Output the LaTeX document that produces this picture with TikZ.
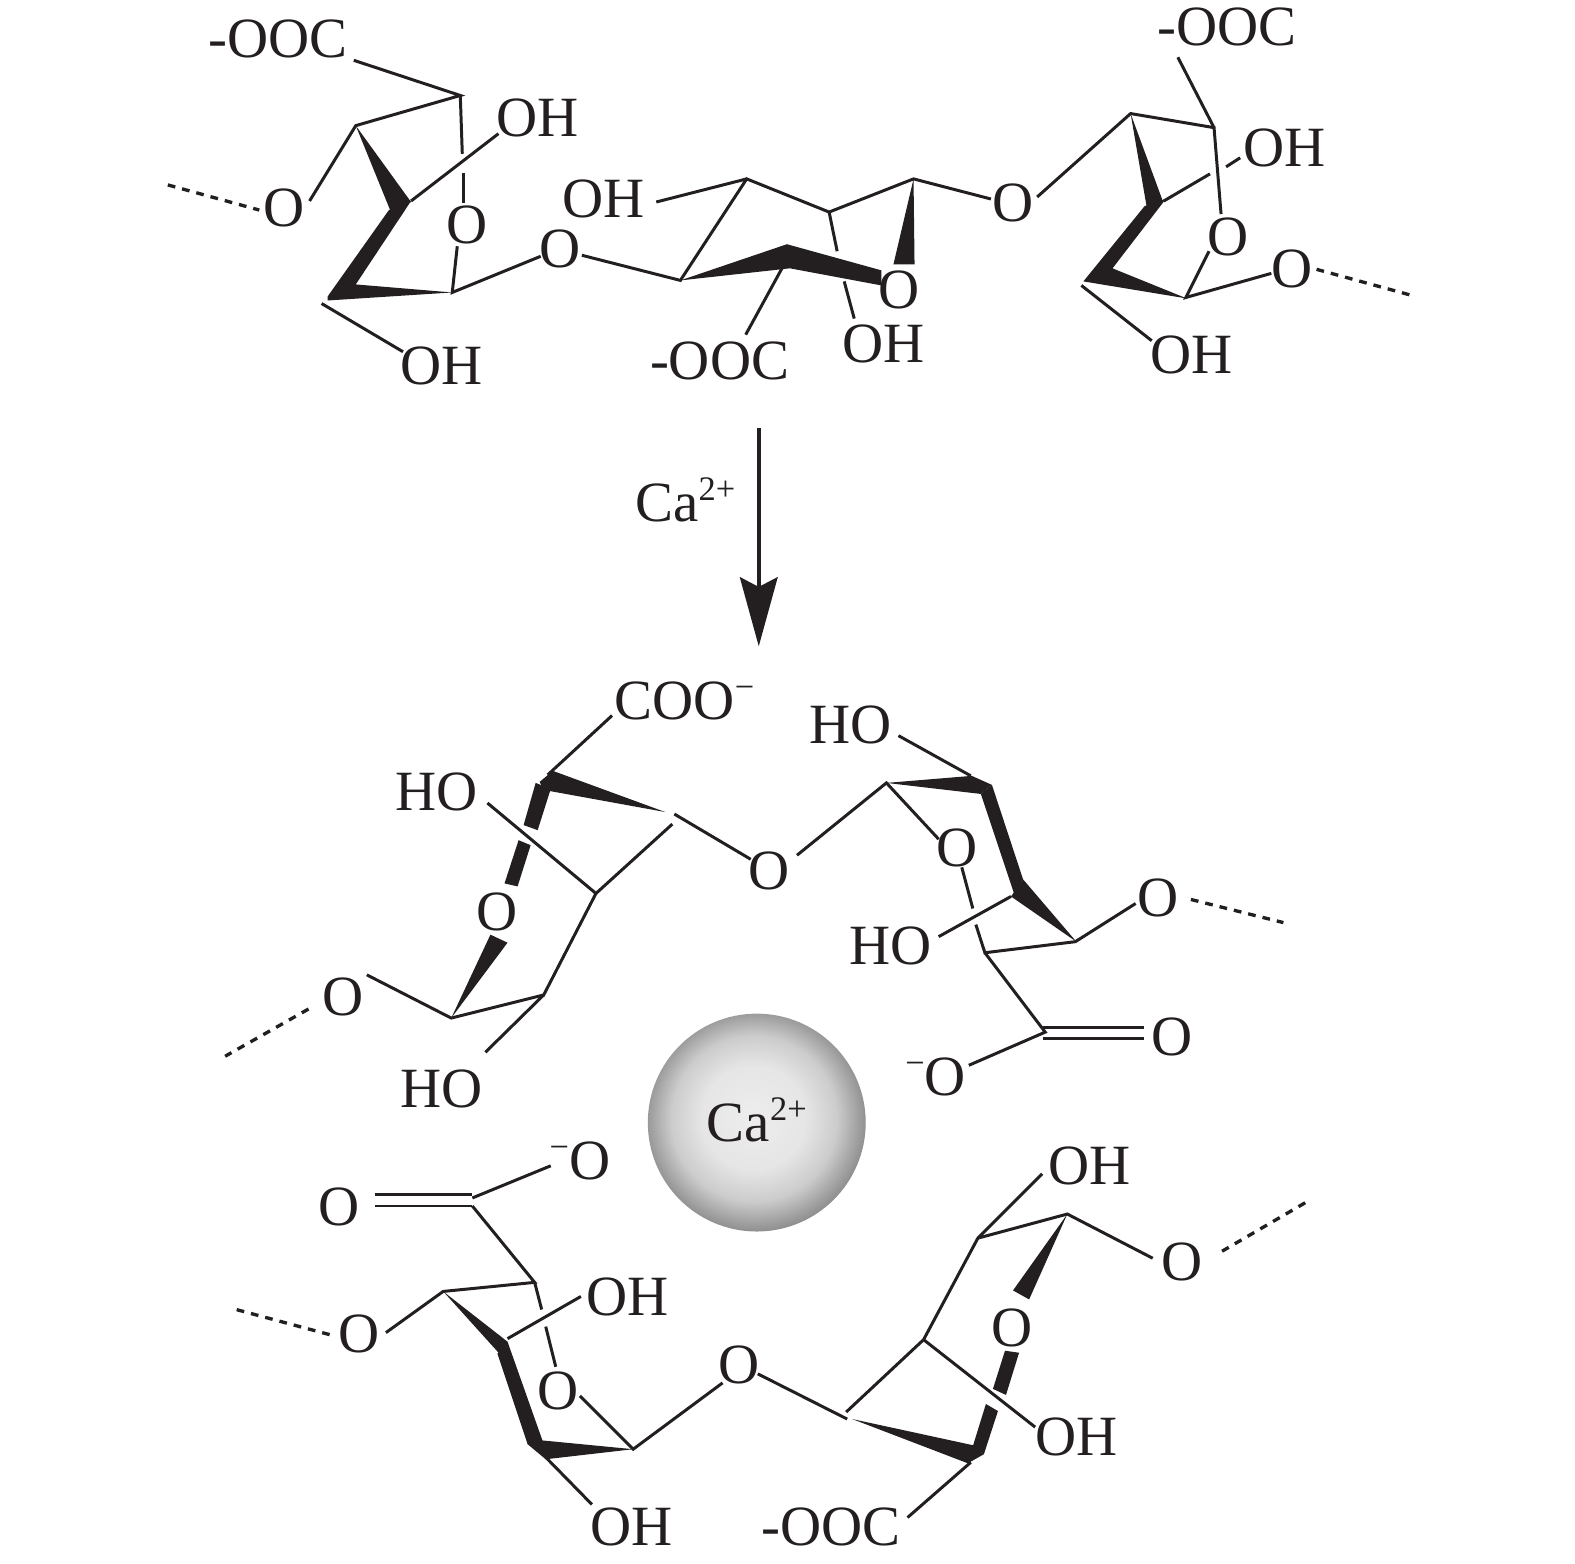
\documentclass[tikz,border=0pt]{standalone}
\usepackage{fontspec}
\setmainfont{Liberation Serif}
\definecolor{ink}{HTML}{231F20}
\pgfdeclareradialshading{caball}{\pgfpoint{-1bp}{1.5bp}}{rgb(0bp)=(.93,.93,.93); rgb(12bp)=(.90,.90,.90); rgb(19bp)=(.80,.80,.80); rgb(24bp)=(.62,.62,.62); rgb(28bp)=(.48,.48,.48); rgb(34bp)=(.42,.42,.42); rgb(50bp)=(.42,.42,.42)}
\newcommand{\upchg}[1]{\raisebox{.37em}{\fontsize{9.8}{9.8}\selectfont #1}}
\tikzset{
  lab/.style={inner sep=0pt,text=ink,font=\fontsize{16.2}{16.2}\selectfont,text height=10.7pt,text depth=0pt},
  bond/.style={draw=ink,line width=.85pt},
  dotbond/.style={draw=ink,line width=.95pt,dash pattern=on 2.2pt off 2pt},
  solid wedge/.style={fill=ink,draw=none}
}
\begin{document}
\begin{tikzpicture}[x=.01005cm,y=-.01005cm]
\useasboundingbox (0,0) rectangle (1567.2,1556.2);
% ---------- labels, top chain
\node[lab] (ta) at (277,39) {-OOC};
\node[lab] (tb) at (535,117) {OH};
\node[lab] (tc) at (283,207) {O};
\node[lab] (td) at (465,224) {O};
\node[lab] (te) at (557,247) {O};
\node[lab] (tf) at (601,198) {OH};
\node[lab] (tg) at (439,364) {OH};
\node[lab] (th) at (716,359) {-OOC};
\node[lab] (ti) at (879,342) {OH};
\node[lab] (tj) at (895,288) {O};
\node[lab] (tk) at (1008,202) {O};
\node[lab] (tl) at (1221,27) {-OOC};
\node[lab] (tm) at (1278,147) {OH};
\node[lab] (tn) at (1222,236) {O};
\node[lab] (to) at (1286,267) {O};
\node[lab] (tp) at (1186,353) {OH};
% ---------- top chain vertices and free ends
\coordinate (a1) at (458,95);   \coordinate (a2) at (354,125);
\coordinate (a3) at (460,153);  \coordinate (a4) at (461,172);
\coordinate (a5) at (461,202);  \coordinate (a6) at (450,291);
\coordinate (a7) at (455,245);  \coordinate (a8) at (352,60);
\coordinate (a9) at (496,133);  \coordinate (a10) at (409,200);
\coordinate (a11) at (320,302); \coordinate (a12) at (401,350);
\coordinate (a13) at (308,200); \coordinate (a14) at (167,184);
\coordinate (a15) at (258,209); \coordinate (a16) at (538,255);
\coordinate (b1) at (677,279);  \coordinate (b2) at (743,178);
\coordinate (b3) at (825,211);  \coordinate (b4) at (909,178);
\coordinate (b5) at (579,254);  \coordinate (b6) at (653,201);
\coordinate (b7) at (783,258);  \coordinate (b8) at (742,333);
\coordinate (b9) at (833,250);  \coordinate (b10) at (840,280);
\coordinate (b11) at (850,317); \coordinate (b12) at (986,198);
\coordinate (c1) at (1125,113); \coordinate (c2) at (1208,127);
\coordinate (c3) at (1032,196); \coordinate (c4) at (1172,57);
\coordinate (c5) at (1234,157); \coordinate (c6) at (1220,166);
\coordinate (c7) at (1204,173); \coordinate (c8) at (1158,200);
\coordinate (c9) at (1215,213); \coordinate (c10) at (1180,296);
\coordinate (c11) at (1203,250);\coordinate (c12) at (1265,272);
\coordinate (c13) at (1076,284);\coordinate (c14) at (1146,339);
\coordinate (c15) at (1310,268);\coordinate (c16) at (1405,294);
% ---------- top chain bonds
\draw[bond] (a8) -- (a1) -- (a2) -- (a13);
\draw[bond] (a1) -- (a3);
\draw[bond] (a4) -- (a5);
\draw[bond] (a9) -- (a10);
\draw[bond] (a7) -- (a6) -- (a16);
\draw[bond] (a11) -- (a12);
\draw[dotbond] (a14) -- (a15);
\draw[bond] (b5) -- (b1) -- (b2) -- (b3) -- (b4) -- (b12);
\draw[bond] (b2) -- (b6);
\draw[bond] (b7) -- (b8);
\draw[bond] (b3) -- (b9);
\draw[bond] (b10) -- (b11);
\draw[bond] (c3) -- (c1) -- (c2) -- (c9);
\draw[bond] (c4) -- (c2);
\draw[bond] (c5) -- (c6);
\draw[bond] (c7) -- (c8);
\draw[bond] (c11) -- (c10) -- (c12);
\draw[bond] (c13) -- (c14);
\draw[dotbond] (c15) -- (c16);
% ---------- top chain wedges
\fill[solid wedge] (a2) -- (409,201) -- (389,211) -- cycle;
\fill[solid wedge] (387,209) -- (409,200) -- (354,283) -- (450,291) -- (326,299) -- (326,295) -- cycle;
\fill[solid wedge] (b1) -- (783,243) -- (877,269) -- (877,284) -- (786,267) -- cycle;
\fill[solid wedge] (b4) -- (910,263) -- (889,263) -- cycle;
\fill[solid wedge] (c1) -- (1157,200) -- (1141,206) -- cycle;
\fill[solid wedge] (1139,205) -- (1160,198) -- (1107,267) -- (1181,297) -- (1078,280) -- cycle;
% ---------- arrow
\node[lab] (ar) at (682,500) {Ca\upchg{2+}};
\coordinate (r1) at (755,426); \coordinate (r2) at (755,590);
\draw[draw=ink,line width=1.05pt] (r1) -- (r2);
\fill[solid wedge] (755,643) -- (736,574) -- (755,584) -- (774,574) -- cycle;
% ---------- labels, middle chain
\node[lab] (ma) at (681,697) {COO\upchg{−}};
\node[lab] (mb) at (434,788) {HO};
\node[lab] (mc) at (495,907) {O};
\node[lab] (md) at (341,992) {O};
\node[lab] (me) at (439,1083) {HO};
\node[lab] (mf) at (765,866) {O};
\node[lab] (mg) at (846,721) {HO};
\node[lab] (mh) at (952,843) {O};
\node[lab] (mi) at (886,941) {HO};
\node[lab] (mj) at (1152,893) {O};
\node[lab] (mk) at (1166,1032) {O};
\node[lab] (ml) at (931,1071) {\upchg{−}O};
% ---------- middle chain vertices
\coordinate (d0) at (609,712);  \coordinate (d1) at (545,771);
\coordinate (d2) at (485,799);  \coordinate (d3) at (593,889);
\coordinate (d4) at (669,820);  \coordinate (d5) at (671,810);
\coordinate (d6) at (747,855);  \coordinate (d7) at (541,990);
\coordinate (d8) at (449,1013); \coordinate (d9) at (483,1047);
\coordinate (d10) at (365,970); \coordinate (d11) at (307,1004);
\coordinate (d12) at (224,1051);
\coordinate (e1) at (882,779);  \coordinate (e2) at (793,851);
\coordinate (e3) at (894,732);  \coordinate (e4) at (966,772);
\coordinate (e5) at (934,835);  \coordinate (e6) at (957,863);
\coordinate (e7) at (968,904);  \coordinate (e8) at (971,920);
\coordinate (e9) at (980,948);  \coordinate (e10) at (1070,937);
\coordinate (e11) at (1006,892);\coordinate (e12) at (934,932);
\coordinate (e13) at (1130,899);\coordinate (e14) at (1185,895);
\coordinate (e15) at (1277,918);\coordinate (e16) at (1040,1027);
\coordinate (e17) at (964,1060);
\coordinate (e18) at (1038,1022);\coordinate (e19) at (1138,1022);
\coordinate (e20) at (1038,1033);\coordinate (e21) at (1138,1033);
% ---------- middle chain bonds
\draw[bond] (d0) -- (d1);
\draw[bond] (d2) -- (d3) -- (d4);
\draw[bond] (d5) -- (d6);
\draw[bond] (d3) -- (d7) -- (d8) -- (d10);
\draw[bond] (d7) -- (d9);
\draw[dotbond] (d11) -- (d12);
\draw[bond] (e2) -- (e1) -- (e5);
\draw[bond] (e3) -- (e4);
\draw[bond] (e6) -- (e7);
\draw[bond] (e8) -- (e9) -- (e10) -- (e13);
\draw[bond] (e11) -- (e12);
\draw[dotbond] (e14) -- (e15);
\draw[bond] (e9) -- (e16) -- (e17);
\draw[bond] (e18) -- (e19);
\draw[bond] (e20) -- (e21);
% ---------- middle chain wedges
\fill[solid wedge] (550,767) -- (662,808) -- (541,786) -- (537,778) -- cycle;
\fill[solid wedge] (533,779) -- (548,785) -- (535,826) -- (521,821) -- cycle;
\fill[solid wedge] (516,836) -- (528,841) -- (515,882) -- (502,879) -- cycle;
\fill[solid wedge] (d8) -- (488,930) -- (505,938) -- cycle;
\fill[solid wedge] (e1) -- (967,772) -- (987,781) -- (976,790) -- cycle;
\fill[solid wedge] (987,781) -- (1018,875) -- (1009,889) -- (976,790) -- cycle;
\fill[solid wedge] (1018,875) -- (1071,937) -- (1006,892) -- cycle;
% ---------- calcium ion
\node[circle,minimum size=2.18cm,inner sep=0pt,shading=caball,text=ink,text height=10.7pt,text depth=0pt] (ball) at (753,1117) {\fontsize{16.2}{16.2}\selectfont Ca\upchg{2+}};
% ---------- labels, bottom chain
\node[lab] (na) at (577,1155) {\upchg{−}O};
\node[lab] (nb) at (337,1201) {O};
\node[lab] (nc) at (624,1290) {OH};
\node[lab] (nd) at (357,1327) {O};
\node[lab] (ne) at (555,1384) {O};
\node[lab] (nf) at (735,1358) {O};
\node[lab] (ng) at (628,1519) {OH};
\node[lab] (nh) at (1084,1160) {OH};
\node[lab] (ni) at (1176,1255) {O};
\node[lab] (nj) at (1007,1321) {O};
\node[lab] (nk) at (1071,1430) {OH};
\node[lab] (nl) at (827,1519) {-OOC};
% ---------- bottom chain vertices
\coordinate (f0) at (470,1192); \coordinate (f1) at (548,1160);
\coordinate (f2) at (373,1189); \coordinate (f3) at (470,1189);
\coordinate (f4) at (373,1200); \coordinate (f5) at (470,1200);
\coordinate (f6) at (532,1276); \coordinate (f7) at (441,1285);
\coordinate (f8) at (539,1303); \coordinate (f9) at (543,1320);
\coordinate (f10) at (553,1360);\coordinate (f11) at (578,1290);
\coordinate (f12) at (505,1332);\coordinate (f13) at (384,1326);
\coordinate (f14) at (328,1328);\coordinate (f15) at (235,1303);
\coordinate (f16) at (630,1442);\coordinate (f17) at (577,1389);
\coordinate (f18) at (719,1376);\coordinate (f19) at (543,1450);
\coordinate (f20) at (589,1497);
\coordinate (g0) at (754,1367); \coordinate (g1) at (843,1412);
\coordinate (g2) at (842,1405); \coordinate (g3) at (919,1333);
\coordinate (g4) at (973,1232); \coordinate (g5) at (1037,1168);
\coordinate (g6) at (1062,1208);\coordinate (g7) at (1147,1252);
\coordinate (g8) at (1216,1245);\coordinate (g9) at (1300,1196);
\coordinate (g10) at (1030,1420);\coordinate (g11) at (966,1455);
\coordinate (g12) at (903,1510);
% ---------- bottom chain bonds
\draw[bond] (f0) -- (f1);
\draw[bond] (f2) -- (f3);
\draw[bond] (f4) -- (f5);
\draw[bond] (f5) -- (f6) -- (f7) -- (f13);
\draw[bond] (f6) -- (f8);
\draw[bond] (f9) -- (f10);
\draw[bond] (f11) -- (f12);
\draw[dotbond] (f14) -- (f15);
\draw[bond] (f17) -- (f16) -- (f18);
\draw[bond] (f19) -- (f20);
\draw[bond] (g0) -- (g1);
\draw[bond] (g2) -- (g3) -- (g4) -- (g5);
\draw[bond] (g4) -- (g6) -- (g7);
\draw[bond] (g3) -- (g10);
\draw[bond] (g11) -- (g12);
\draw[dotbond] (g8) -- (g9);
% ---------- bottom chain wedges
\fill[solid wedge] (f7) -- (505,1335) -- (497,1347) -- cycle;
\fill[solid wedge] (505,1335) -- (495,1347) -- (525,1437) -- (540,1434) -- cycle;
\fill[solid wedge] (537,1433) -- (630,1442) -- (543,1452) -- (525,1437) -- cycle;
\fill[solid wedge] (g6) -- (1024,1293) -- (1008,1284) -- cycle;
\fill[solid wedge] (1000,1344) -- (1014,1346) -- (1001,1388) -- (988,1382) -- cycle;
\fill[solid wedge] (981,1397) -- (993,1404) -- (979,1447) -- (968,1439) -- cycle;
\fill[solid wedge] (848,1412) -- (968,1438) -- (979,1447) -- (963,1456) -- cycle;
\end{tikzpicture}
\end{document}
